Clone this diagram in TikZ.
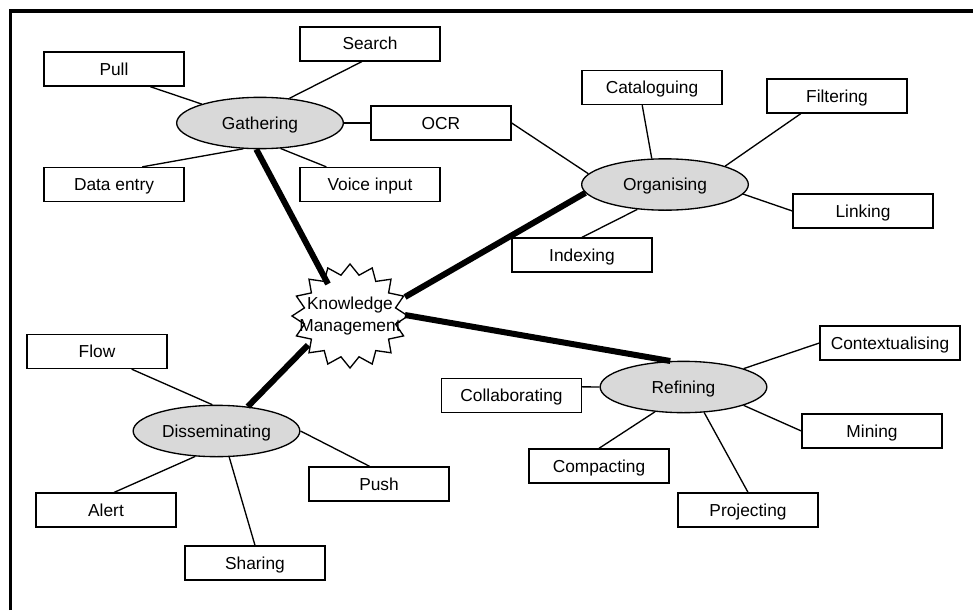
\documentclass[tikz,border=0pt]{standalone}
\usepackage{fontspec}
\setmainfont{Liberation Sans}
\usetikzlibrary{shapes.geometric,calc}

\begin{document}
\begin{tikzpicture}[x=0.75pt,y=-0.75pt,
  every node/.style={font=\fontsize{13}{16}\selectfont},
  leaf/.style={draw, line width=1pt, minimum width=105pt, minimum height=25.5pt,
               inner sep=0pt, text height=10pt, text depth=1pt},
  stage/.style={draw, ellipse, fill=gray!30, line width=1pt, minimum width=125pt,
                minimum height=38.5pt, inner sep=0pt, text height=10pt, text depth=1pt},
  twig/.style={line width=1pt},
  trunk/.style={line width=4.5pt},
  frameline/.style={line width=2.6pt, line join=miter},
]
\useasboundingbox (0,0) rectangle (973,610);

% outer frame (open towards right and bottom)
\draw[frameline] (10.5,610) -- (10.5,11) -- (973,11);

% central explosion: 16-point star
\draw[line width=1pt, fill=white]
  plot[samples at={0,...,31}, variable=\k]
  ({350+58*(1-0.2*mod(\k,2))*cos(90+11.25*\k)},
   {316-52*(1-0.2*mod(\k,2))*sin(90+11.25*\k)}) -- cycle;
\node[align=center, inner sep=0pt] (km) at (350,316) {Knowledge\\Management};

% Gathering cluster
\node[stage] (gath) at (260,123) {Gathering};
\node[leaf] (pull)   at (114,69)    {Pull};
\node[leaf] (search) at (370,44)    {Search};
\node[leaf] (ocr)    at (441,123)   {OCR};
\node[leaf] (dentry) at (114,184.5) {Data entry};
\node[leaf] (voice)  at (370,184.5) {Voice input};

% Organising cluster
\node[stage] (org) at (665,184.5) {Organising};
\node[leaf] (cat)  at (652,87.5) {Cataloguing};
\node[leaf] (filt) at (837,96)   {Filtering};
\node[leaf] (link) at (863,211)  {Linking};
\node[leaf] (idx)  at (582,255)  {Indexing};

% Refining cluster
\node[stage] (ref) at (683.5,387) {Refining};
\node[leaf] (coll) at (511.5,395.5) {Collaborating};
\node[leaf] (ctx)  at (890,343)     {Contextualising};
\node[leaf] (mine) at (872,431)     {Mining};
\node[leaf] (comp) at (599,466)     {Compacting};
\node[leaf] (proj) at (748,510)     {Projecting};

% Disseminating cluster
\node[stage] (diss) at (216.5,431) {Disseminating};
\node[leaf] (flow)  at (97,351.5) {Flow};
\node[leaf] (alert) at (106,510)  {Alert};
\node[leaf] (share) at (255,563)  {Sharing};
\node[leaf] (push)  at (379,484)  {Push};

% thin links to the activities
\draw[twig] (pull.334.7) -- (gath.162.5);
\draw[twig] (search.245) -- (gath.40);
\draw[twig] (gath.east) -- (ocr.west);
\draw[twig] (dentry.32) -- (gath.237);
\draw[twig] (voice.158) -- (gath.309);

\draw[twig] (ocr.east) -- (org.172);
\draw[twig] (cat.241) -- (org.117);
\draw[twig] (filt.206) -- (org.17);
\draw[twig] (link.west) -- (org.353);
\draw[twig] (idx.north) -- (org.222);

\draw[twig] (coll.7) -- (ref.west);
\draw[twig] (ctx.west) -- (ref.17);
\draw[twig] (mine.west) -- (ref.343);
\draw[twig] (comp.north) -- (ref.221);
\draw[twig] (proj.north) -- (ref.309);

\draw[twig] (flow.333) -- (diss.99);
\draw[twig] (alert.65) -- (diss.230);
\draw[twig] (share.north) -- (diss.296);
\draw[twig] (push.118) -- (diss.east);

% heavy links from the hub to the four stages
\draw[trunk] (gath.262) -- ($(km)+(-22,-32)$);
\draw[trunk] (org.186)  -- ($(km)+(55,-19)$);
\draw[trunk] (ref.117)  -- ($(km)+(55,-1)$);
\draw[trunk] (diss.38)  -- ($(km)+(-42,29)$);
\end{tikzpicture}
\end{document}
